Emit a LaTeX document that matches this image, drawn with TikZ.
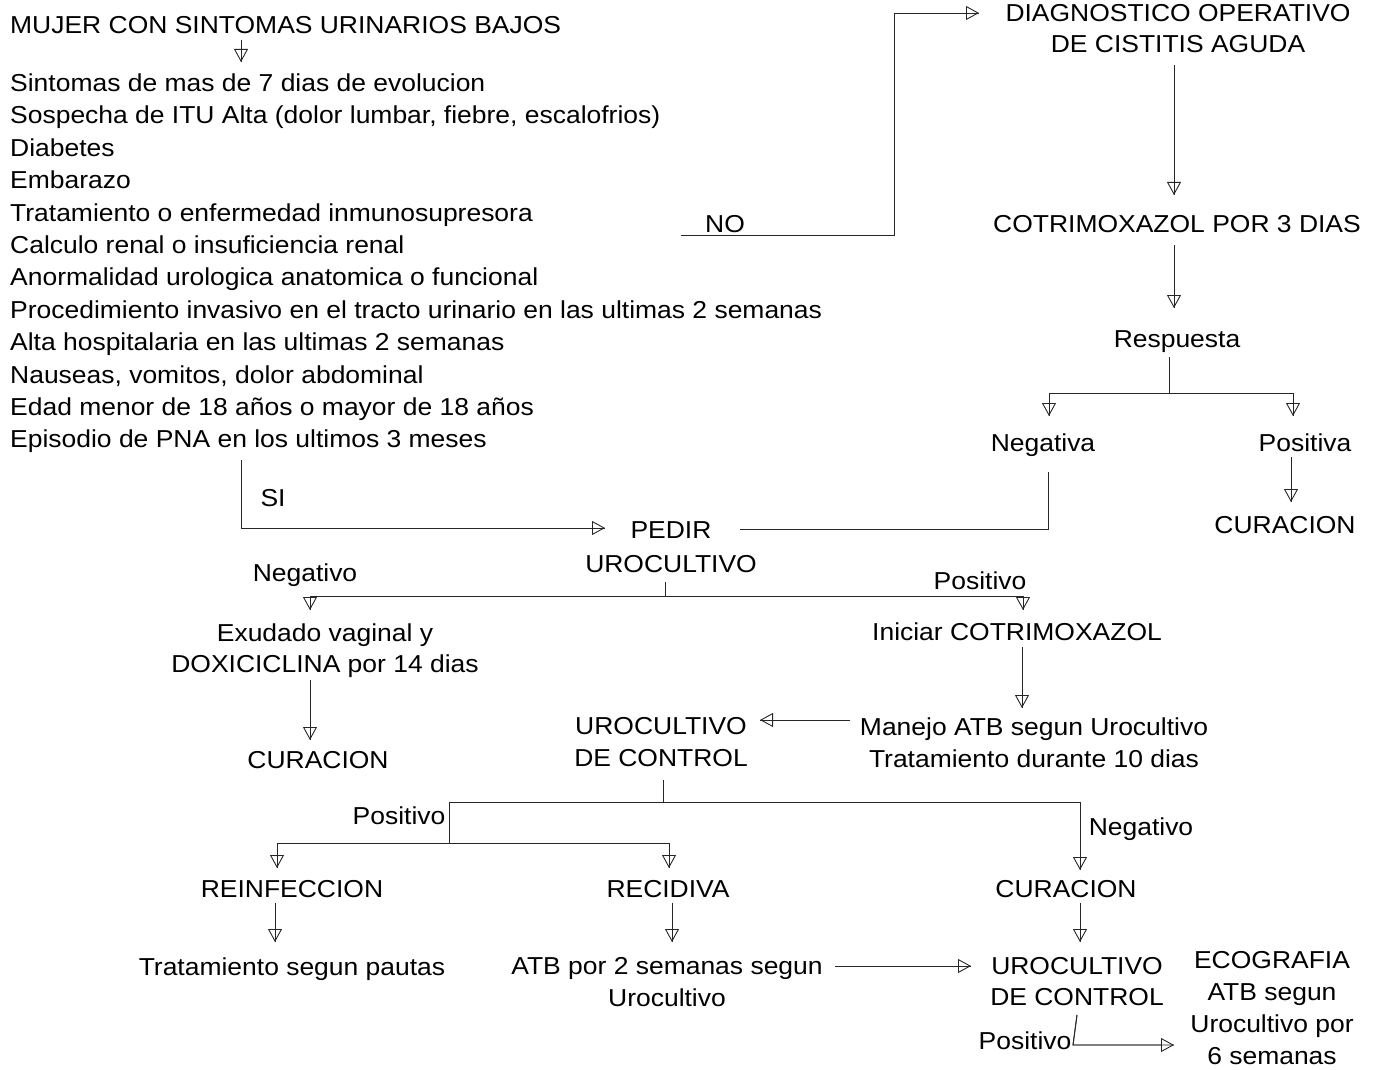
\documentclass[tikz,border=0pt]{standalone}
\usepackage{fontspec}
\setmainfont{Liberation Sans}[FakeStretch=1.08]
\usetikzlibrary{arrows.meta}
\begin{document}
\begin{tikzpicture}[x=1pt,y=-1pt,
  every node/.style={inner sep=0pt, font=\fontsize{24.5}{32}\selectfont},
  t/.style={anchor=base},
  blk/.style={anchor=north, align=center},
  ln/.style={draw=black!85, line width=0.9pt},
  arr/.style={ln, -{Triangle[open,length=13pt,width=14pt]},
              postaction={draw=black!85, line width=0.9pt, -}},
]
\useasboundingbox (0,0) rectangle (1374,1070);

% ---------- nodes ----------
\node[t, anchor=base west] (title) at (10,34) {MUJER CON SINTOMAS URINARIOS BAJOS};
\node[anchor=north west, align=left, font=\fontsize{24.5}{32.4}\selectfont] (crit) at (10,73.5)
 {Sintomas de mas de 7 dias de evolucion\\
  Sospecha de ITU Alta (dolor lumbar, fiebre, escalofrios)\\
  Diabetes\\
  Embarazo\\
  Tratamiento o enfermedad inmunosupresora\\
  Calculo renal o insuficiencia renal\\
  Anormalidad urologica anatomica o funcional\\
  Procedimiento invasivo en el tracto urinario en las ultimas 2 semanas\\
  Alta hospitalaria en las ultimas 2 semanas\\
  Nauseas, vomitos, dolor abdominal\\
  Edad menor de 18 años o mayor de 18 años\\
  Episodio de PNA en los ultimos 3 meses};
\node[t] (no) at (725,232) {NO};
\node[t] (si) at (273,506) {SI};
\node[blk, font=\fontsize{24.5}{31}\selectfont] (diag) at (1178,4.5) {DIAGNOSTICO OPERATIVO\\DE CISTITIS AGUDA};
\node[t] (cotrim) at (1177,233) {COTRIMOXAZOL POR 3 DIAS};
\node[t] (resp) at (1177,347) {Respuesta};
\node[t] (nega) at (1043,451) {Negativa};
\node[t] (posa) at (1305,451) {Positiva};
\node[t] (cur1) at (1285,533) {CURACION};
\node[blk, font=\fontsize{24.5}{34}\selectfont] (pedir) at (671,521.5) {PEDIR\\UROCULTIVO};
\node[t] (negL) at (305,581) {Negativo};
\node[t] (posR) at (980,589) {Positivo};
\node[blk, font=\fontsize{24.5}{31}\selectfont] (exud) at (325,623.5) {Exudado vaginal y\\DOXICICLINA por 14 dias};
\node[t] (cur2) at (318,768) {CURACION};
\node[t] (inic) at (1017,640) {Iniciar COTRIMOXAZOL};
\node[blk] (manejo) at (1034,717.5) {Manejo ATB segun Urocultivo\\Tratamiento durante 10 dias};
\node[blk] (uc1) at (661,717.5) {UROCULTIVO\\DE CONTROL};
\node[t] (posM) at (399,824) {Positivo};
\node[t] (negM) at (1141,835) {Negativo};
\node[t] (reinf) at (292,897) {REINFECCION};
\node[t] (recid) at (668,897) {RECIDIVA};
\node[t] (cur3) at (1066,897) {CURACION};
\node[t] (trat) at (292,975) {Tratamiento segun pautas};
\node[blk] (atb) at (667,957.5) {ATB por 2 semanas segun\\Urocultivo};
\node[blk, font=\fontsize{24.5}{31}\selectfont] (uc2) at (1077,957.5) {UROCULTIVO\\DE CONTROL};
\node[blk] (eco) at (1272,951.5) {ECOGRAFIA\\ATB segun\\Urocultivo por\\6 semanas};
\node[t] (posB) at (1025,1049) {Positivo};

% ---------- connector points ----------
\coordinate (c1s) at (241,40);   \coordinate (c1e) at (241,62);
\coordinate (si0) at (241,460);  \coordinate (si1) at (605,528);
\coordinate (no0) at (681,235);  \coordinate (no1) at (894,13); \coordinate (no2) at (979,13);
\coordinate (d0) at (1174,65);   \coordinate (d1) at (1174,195);
\coordinate (k0) at (1174,245);  \coordinate (k1) at (1174,308);
\coordinate (r0) at (1169,357);  \coordinate (r1) at (1169,393);
\coordinate (rL) at (1049,416);  \coordinate (rR) at (1293,416);
\coordinate (p0) at (1291,457);  \coordinate (p1) at (1291,502);
\coordinate (n0) at (1048,472);  \coordinate (n1) at (740,529);
\coordinate (u0) at (665,582);   \coordinate (u1) at (665,596);
\coordinate (uL) at (310,610);   \coordinate (uR) at (1023,610);
\coordinate (e0) at (310,680);   \coordinate (e1) at (310,740);
\coordinate (i0) at (1022,647);  \coordinate (i1) at (1022,708);
\coordinate (m0) at (850,720);   \coordinate (m1) at (760,720);
\coordinate (v0) at (663,780);   \coordinate (v1) at (663,802);
\coordinate (v2) at (449,843);
\coordinate (vL) at (277,868);   \coordinate (vR) at (669,868);
\coordinate (vN) at (1080,870);
\coordinate (w0) at (275,903);   \coordinate (w1) at (275,942);
\coordinate (x0) at (672,903);   \coordinate (x1) at (672,942);
\coordinate (y0) at (1080,903);  \coordinate (y1) at (1080,942);
\coordinate (z0) at (835,966);   \coordinate (z1) at (971,966);
\coordinate (q0) at (1077,1015); \coordinate (q1) at (1073,1045); \coordinate (q2) at (1174,1045);

% ---------- connectors ----------
\draw[arr] (c1s) -- (c1e);
\draw[arr] (si0) |- (si1);
\draw[arr] (no0) -| (no1) -- (no2);
\draw[arr] (d0) -- (d1);
\draw[arr] (k0) -- (k1);
\draw[ln] (r0) -- (r1);
\draw[arr] (r1) -| (rL);
\draw[arr] (r1) -| (rR);
\draw[arr] (p0) -- (p1);
\draw[ln] (n0) |- (n1);
\draw[ln] (u0) -- (u1);
\draw[arr] (u1) -| (uL);
\draw[arr] (u1) -| (uR);
\draw[arr] (e0) -- (e1);
\draw[arr] (i0) -- (i1);
\draw[arr] (m0) -- (m1);
\draw[ln] (v0) -- (v1);
\draw[ln] (v1) -| (v2);
\draw[arr] (v2) -| (vL);
\draw[arr] (v2) -| (vR);
\draw[arr] (v1) -| (vN);
\draw[arr] (w0) -- (w1);
\draw[arr] (x0) -- (x1);
\draw[arr] (y0) -- (y1);
\draw[arr] (z0) -- (z1);
\draw[arr] (q0) -- (q1) -- (q2);
\end{tikzpicture}
\end{document}
